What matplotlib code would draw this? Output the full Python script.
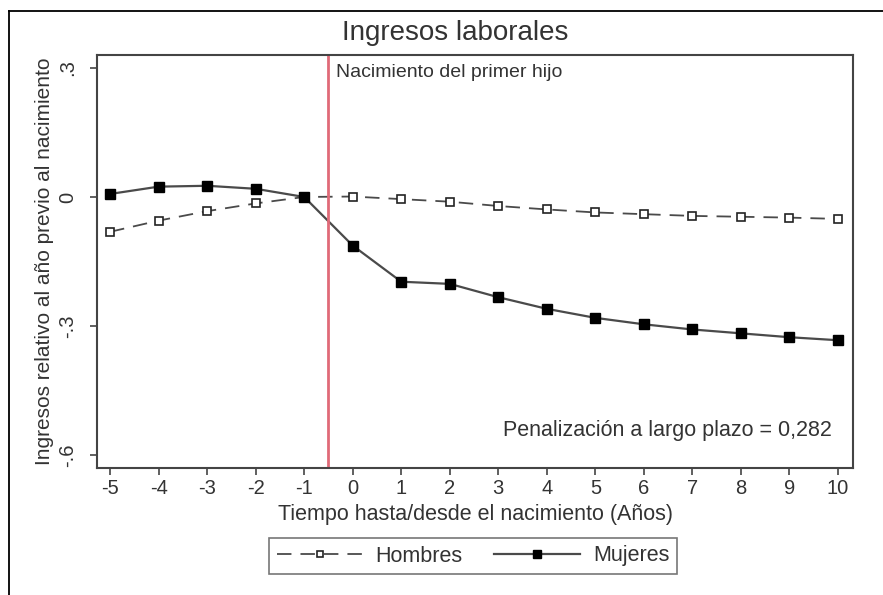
import matplotlib.pyplot as plt
from matplotlib.lines import Line2D

plt.rcParams['font.family'] = ['Liberation Sans', 'DejaVu Sans']

years = [-5, -4, -3, -2, -1, 0, 1, 2, 3, 4, 5, 6, 7, 8, 9, 10]
hombres = [-0.081, -0.055, -0.033, -0.015, 0.0, 0.001, -0.005, -0.011,
           -0.021, -0.029, -0.036, -0.040, -0.044, -0.046, -0.048, -0.051]
mujeres = [0.007, 0.024, 0.026, 0.019, 0.0, -0.113, -0.197, -0.202,
           -0.233, -0.260, -0.281, -0.296, -0.308, -0.317, -0.326, -0.333]
yticks = [0.3, 0, -0.3, -0.6]
ytick_labels = ['.3', '0', '-.3', '-.6']
birth_x = -0.5
penalty_text = "Penalización a largo plazo = 0,282"

W, H = 883, 595
fig = plt.figure(figsize=(W / 100, H / 100), dpi=100)
ax = fig.add_axes([97 / W, 1 - 468 / H, (853 - 97) / W, (468 - 55) / H])

line_col = '#4a4a4a'
ax.plot(years, hombres, color=line_col, lw=1.3, dashes=(8, 5),
        marker='s', ms=6, mfc='white', mec='#222222', mew=1.2, label='Hombres')
ax.plot(years, mujeres, color=line_col, lw=1.6,
        marker='s', ms=7.5, mfc='black', mec='black', label='Mujeres')
ax.axvline(birth_x, color='#e06a78', lw=2)

ax.set_xlim(-5.27, 10.31)
ax.set_ylim(-0.63, 0.33)
ax.set_xticks(years)
ax.set_xticklabels([str(y) for y in years])
ax.set_yticks(yticks)
ax.set_yticklabels(ytick_labels, rotation=90, va='center')
ax.tick_params(axis='both', labelsize=14.5, length=5, width=1.2,
               color='#444444', labelcolor='#333333', pad=3)
ax.tick_params(axis='y', pad=9)
for s in ax.spines.values():
    s.set_color('#444444')
    s.set_linewidth(1.5)

ax.text(-0.35, 0.29, "Nacimiento del primer hijo", fontsize=14,
        color='#333333', va='center', ha='left')
ax.text(9.87, -0.542, penalty_text, fontsize=15.5, color='#333333',
        va='center', ha='right')

ax.set_xlabel("Tiempo hasta/desde el nacimiento (Años)", fontsize=15.5,
              color='#333333', labelpad=4)
ax.set_ylabel("Ingresos relativo al año previo al nacimiento", fontsize=15,
              color='#333333', labelpad=3)
fig.text(455 / W, 1 - 33 / H, "Ingresos laborales", fontsize=20,
         color='#333333', ha='center', va='center')

leg = fig.legend(loc='center', bbox_to_anchor=(473 / W, 1 - 556 / H),
                 ncol=2, fontsize=15.5, frameon=True, fancybox=False,
                 edgecolor='#555555', handlelength=4.0, handletextpad=0.6,
                 columnspacing=1.45, borderpad=0.35, markerscale=0.75)
leg.get_frame().set_linewidth(1.2)
for t in leg.get_texts():
    t.set_color('#333333')

# outer frame (top and left edges visible)
fig.add_artist(Line2D([9 / W, 1], [1 - 11 / H, 1 - 11 / H], color='black', lw=1.3))
fig.add_artist(Line2D([9 / W, 9 / W], [0, 1 - 11 / H], color='black', lw=1.3))

fig.savefig('out.png', dpi=100)
